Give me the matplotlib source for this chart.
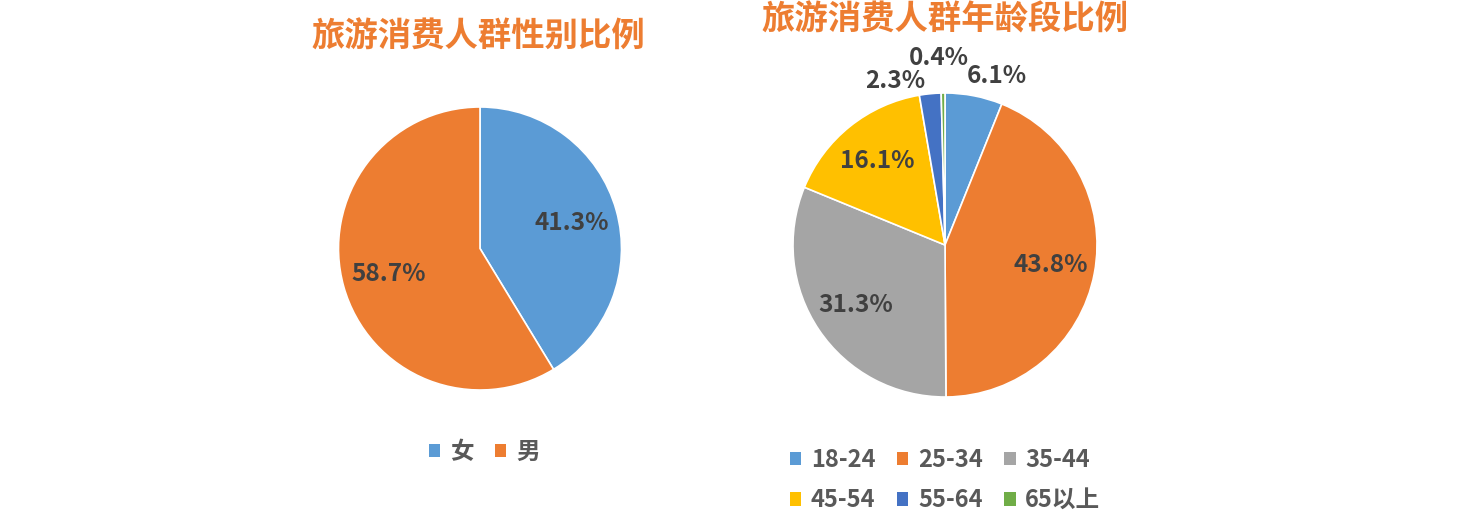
import numpy as np
import matplotlib.pyplot as plt
from matplotlib.patches import Patch

plt.rcParams['font.family'] = ['Noto Sans CJK SC', 'DejaVu Sans']

# 数据
gender_labels = ['女', '男']
gender_pct = [41.3, 58.7]

age_labels = ['18-24', '25-34', '35-44', '45-54', '55-64', '65以上']
age_pct = [6.1, 43.8, 31.3, 16.1, 2.3, 0.4]

gender_colors = ['#5B9BD5', '#ED7D31']
age_colors = ['#5B9BD5', '#ED7D31', '#A5A5A5', '#FFC000', '#4472C4', '#70AD47']

W, H = 1470, 528
fig = plt.figure(figsize=(W / 100, H / 100), dpi=100)
title_color = '#ED7D31'
lab_color = '#404040'


def px_axes(cx, cy, r):
    return fig.add_axes([(cx - r) / W, (H - cy - r) / H, 2 * r / W, 2 * r / H])


# 左：性别
ax1 = px_axes(480, 248.5, 141.5)
ax1.pie(gender_pct, colors=gender_colors, startangle=90, counterclock=False,
        radius=1, wedgeprops=dict(edgecolor='white', linewidth=1.2),
        autopct='%.1f%%', pctdistance=0.67,
        textprops=dict(color=lab_color, fontsize=17.5, fontweight='bold'))
ax1.set_xlim(-1, 1)
ax1.set_ylim(-1, 1)
ax1.axis('off')

# 右：年龄段
ax2 = px_axes(945, 245, 152)
wedges, texts, autotexts = ax2.pie(
    age_pct, colors=age_colors, startangle=90, counterclock=False, radius=1,
    wedgeprops=dict(edgecolor='white', linewidth=1.2),
    autopct='%.1f%%', pctdistance=0.71,
    textprops=dict(color=lab_color, fontsize=17.5, fontweight='bold'))
# 小扇区标签放到外面（Excel 自动避让）
outside = {0: (73, 1.16), 4: (107, 1.13), 5: (92, 1.23)}
for i, (ang, d) in outside.items():
    a = np.deg2rad(ang)
    autotexts[i].set_position((d * np.cos(a), d * np.sin(a)))
ax2.set_xlim(-1, 1)
ax2.set_ylim(-1, 1)
ax2.axis('off')
for t in list(autotexts):
    t.set_clip_on(False)

fig.text(478 / W, 1 - 37 / H, '旅游消费人群性别比例', ha='center', va='center',
         fontsize=24, fontweight='bold', color=title_color)
fig.text(945 / W, 1 - 20 / H, '旅游消费人群年龄段比例', ha='center', va='center',
         fontsize=24, fontweight='bold', color=title_color)

leg_kw = dict(frameon=False, handlelength=0.5, handleheight=0.5,
              handletextpad=0.4, labelcolor='#595959',
              prop=dict(size=17, weight='bold'))
h1 = [Patch(facecolor=c, edgecolor='none') for c in gender_colors]
fig.legend(h1, gender_labels, loc='center', bbox_to_anchor=(484 / W, 1 - 452 / H),
           ncol=2, columnspacing=0.9, **leg_kw)
# 按行排列：matplotlib 按列填充，所以重新排序
order = [0, 3, 1, 4, 2, 5]
h2 = [Patch(facecolor=age_colors[i], edgecolor='none') for i in order]
fig.legend(h2, [age_labels[i] for i in order], loc='center',
           bbox_to_anchor=(945 / W, 1 - 480 / H),
           ncol=3, columnspacing=0.9, labelspacing=0.7, **leg_kw)

fig.savefig('out.png', dpi=100, facecolor='white')
